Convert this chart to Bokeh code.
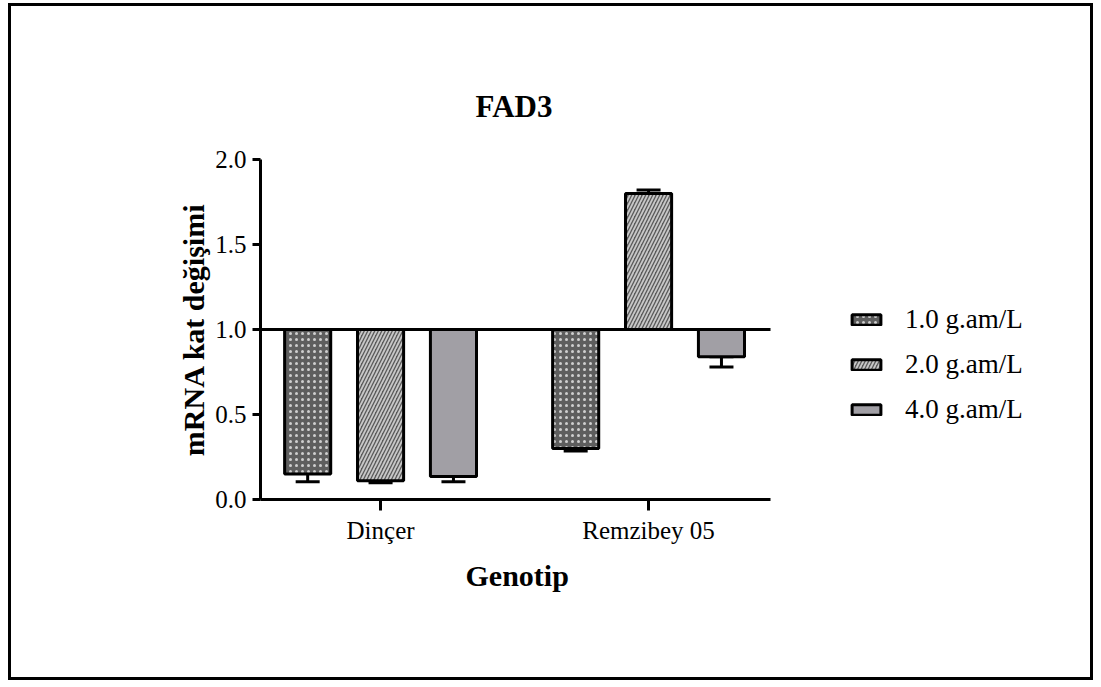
from bokeh.plotting import figure
from bokeh.models import (ColumnDataSource, FixedTicker, Whisker, TeeHead,
                          Legend, LegendItem, CustomJSTickFormatter, Title)
from bokeh.embed import file_html
from bokeh.resources import INLINE

# ---- data ----
groups = ["Dinçer", "Remzibey 05"]
doses = ["1.0 g.am/L", "2.0 g.am/L", "4.0 g.am/L"]
dincer_vals = [0.15, 0.11, 0.135]
remzibey_vals = [0.30, 1.80, 0.84]
dincer_err = [0.045, 0.012, 0.03]
remzibey_err = [0.015, 0.02, 0.06]
dincer_err_in = [0.045, 0.0, 0.0]
remzibey_err_in = [0.0, 0.0, 0.0]
baseline = 1.0
y_ticks = [0.0, 0.5, 1.0, 1.5, 2.0]
x_title = "Genotip"
y_title = "mRNA kat değişimi"
chart_title = "FAD3"

# ---- styles ----
offsets = [-0.272, 0.0, 0.272]
bar_w = 0.172
x_axis_start, x_axis_end = -0.448, 1.455   # visible extent of the x axis
x_view_end = 2.6527                          # frame extends to the right (legend area)
fills = ["#5e5e5e", "#5a5a5a", "#a19fa5"]
hatches = ["dot", "right_diagonal_line", None]
hatch_cols = ["#cfcfcf", "#c8c8c8", None]
hatch_scales = [6, 7, None]
hatch_weights = [1.5, 1.8, None]
FONT = "'Liberation Serif', 'Times New Roman', serif"

p = figure(width=1085, height=677, x_range=(x_axis_start, x_view_end), y_range=(0, 2.0),
           output_backend="svg", toolbar_location=None,
           min_border_left=249, min_border_right=5,
           min_border_top=153, min_border_bottom=184, title=chart_title)
p.styles = {"border": "3px solid black", "margin-left": "8px", "margin-top": "3px"}
p.outline_line_color = None
p.xgrid.visible = False
p.ygrid.visible = False
p.background_fill_color = "white"
p.border_fill_color = "white"

p.title.text_font = FONT
p.title.text_font_size = "31px"
p.title.text_font_style = "bold"
p.title.text_color = "black"
p.title.align = "left"
p.title.offset = 215
p.title.standoff = 71

vals = [dincer_vals, remzibey_vals]
errs = [dincer_err, remzibey_err]
errs_in = [dincer_err_in, remzibey_err_in]

renderers = []
for j, dose in enumerate(doses):
    xs = [gi + offsets[j] for gi in range(len(groups))]
    tops = [vals[gi][j] for gi in range(len(groups))]
    lows, highs = [], []
    for gi in range(len(groups)):
        v = vals[gi][j]
        e = errs[gi][j]
        ei = errs_in[gi][j]
        if v < baseline:
            lows.append(v - e)
            highs.append(v + ei)
        else:
            lows.append(v - ei)
            highs.append(v + e)
    src = ColumnDataSource(dict(x=xs, top=tops, lo=lows, hi=highs))
    kw = dict(fill_color=fills[j], line_color="black", line_width=3)
    if hatches[j]:
        kw.update(hatch_pattern=hatches[j], hatch_color=hatch_cols[j],
                  hatch_scale=hatch_scales[j], hatch_weight=hatch_weights[j])
    w = Whisker(source=src, base="x", lower="lo", upper="hi", line_width=3,
                line_color="black",
                upper_head=TeeHead(size=24, line_width=3, line_color="black"),
                lower_head=TeeHead(size=24, line_width=3, line_color="black"))
    p.add_layout(w)
    r = p.vbar(x="x", top="top", bottom=baseline, width=bar_w, source=src, **kw)
    renderers.append(r)

# baseline at 1.0 across the axis extent
p.segment(x0=[x_axis_start], x1=[x_axis_end], y0=[baseline], y1=[baseline],
          line_color="black", line_width=3)

# axes
p.yaxis.ticker = FixedTicker(ticks=y_ticks)
p.yaxis.formatter = CustomJSTickFormatter(code="return tick.toFixed(1);")
p.xaxis.ticker = FixedTicker(ticks=list(range(len(groups))))
p.xaxis.major_label_overrides = {i: g for i, g in enumerate(groups)}
p.xaxis.bounds = (x_axis_start, x_axis_end)
for ax in (p.xaxis[0], p.yaxis[0]):
    ax.axis_line_width = 3
    ax.major_tick_line_width = 3
    ax.minor_tick_line_color = None
    ax.major_label_text_font = FONT
    ax.major_label_text_font_size = "25px"
    ax.major_label_text_color = "black"
    ax.axis_label_text_font = FONT
    ax.axis_label_text_font_size = "30px"
    ax.axis_label_text_font_style = "bold"
    ax.axis_label_text_color = "black"
p.yaxis.major_tick_out = 8
p.yaxis.major_tick_in = 0
p.yaxis.major_label_standoff = 6
p.yaxis.axis_label = y_title
p.yaxis.axis_label_standoff = 2
p.xaxis.major_tick_out = 11
p.xaxis.major_tick_in = 0
p.xaxis.major_label_standoff = 6

# x-axis title centred under the visible axis extent
xt = Title(text=x_title, align="left", offset=205, standoff=21,
           text_font=FONT, text_font_size="30px", text_font_style="bold",
           text_color="black")
p.add_layout(xt, "below")

legend = Legend(items=[LegendItem(label=d, renderers=[r]) for d, r in zip(doses, renderers)],
                location=(588, 74), orientation="vertical",
                glyph_width=36, glyph_height=13, label_height=30,
                label_standoff=21, spacing=14, padding=0, margin=0,
                border_line_color=None, background_fill_alpha=0,
                label_text_font=FONT, label_text_font_size="27px",
                label_text_color="black")
p.add_layout(legend, "center")

open("out.html", "w").write(file_html(p, INLINE))
